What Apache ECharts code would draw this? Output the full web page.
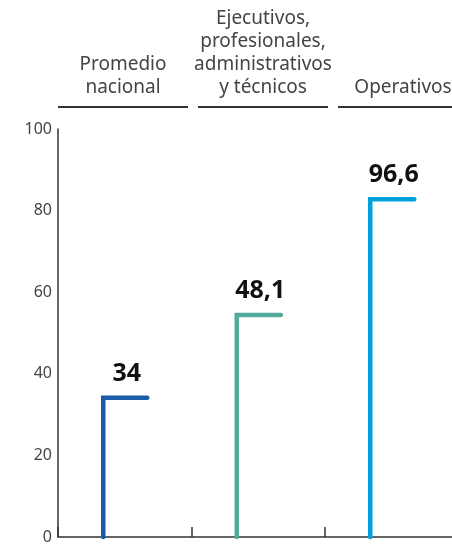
<!DOCTYPE html>
<html>
<head>
<meta charset="utf-8">
<script src="https://cdn.jsdelivr.net/npm/echarts@6/dist/echarts.min.js"></script>
<style>html,body{margin:0;padding:0;background:#fff;}#c{width:452px;height:547px;}</style>
</head>
<body>
<div id="c"></div>
<script>
var categories = ['Promedio\nnacional', 'Ejecutivos,\nprofesionales,\nadministrativos\ny técnicos', 'Operativos'];
var heights = [34.1, 54.4, 82.8];
var valueLabels = ['34', '48,1', '96,6'];
var colors = ['#1a5da6', '#52a899', '#00a2dc'];
var yTicks = [0, 20, 40, 60, 80, 100];
var headerBar = [1, 1, 1];

var FONT = '"Noto Sans", "Open Sans", sans-serif';
var chart = echarts.init(document.getElementById('c'), null, {renderer: 'canvas'});

chart.setOption({
  animation: false,
  backgroundColor: '#fff',
  grid: [
    {left: 58, top: 129, width: 400.5, height: 408, containLabel: false, outerBoundsMode: 'none'},
    {left: 53, top: 106, width: 420, height: 2, containLabel: false, outerBoundsMode: 'none'}
  ],
  xAxis: [
    {
      type: 'category', gridIndex: 0, data: categories,
      axisLine: {lineStyle: {color: '#333', width: 1.5}},
      axisTick: {show: true, inside: true, length: 10, lineStyle: {color: '#333', width: 1.5}},
      axisLabel: {show: false}
    },
    {
      type: 'category', gridIndex: 1, data: categories, position: 'top',
      axisLine: {show: false}, axisTick: {show: false},
      axisLabel: {color: '#444', fontSize: 19, fontFamily: FONT, lineHeight: 23, margin: 7, interval: 0, align: 'center'}
    }
  ],
  yAxis: [
    {
      type: 'value', gridIndex: 0, min: yTicks[0], max: yTicks[yTicks.length - 1], interval: 20,
      axisLine: {show: true, lineStyle: {color: '#333', width: 1.5}},
      axisTick: {show: false},
      splitLine: {show: false},
      axisLabel: {color: '#444', fontSize: 16, fontFamily: FONT, margin: 6}
    },
    {
      type: 'value', gridIndex: 1, min: 0, max: 1, show: false
    }
  ],
  series: [
    {
      type: 'custom',
      xAxisIndex: 0, yAxisIndex: 0,
      data: heights.map(function (h, i) { return [i, h]; }),
      renderItem: function (params, api) {
        var idx = params.dataIndex;
        var x = api.value(0), h = api.value(1);
        var base = api.coord([x, 0]);
        var top = api.coord([x, h]);
        var bw = api.size([1, 0])[0];
        var x0 = base[0] - bw * 0.161;
        var x1 = base[0] + bw * 0.169;
        return {
          type: 'group',
          children: [
            {
              type: 'polyline',
              shape: {points: [[x0, base[1]], [x0, top[1]], [x1, top[1]]]},
              style: {stroke: colors[idx], lineWidth: 4.5, fill: null, lineCap: 'round', lineJoin: 'miter'}
            },
            {
              type: 'text',
              style: {
                text: valueLabels[idx], x: base[0] + 2, y: top[1] - 24,
                align: 'center', verticalAlign: 'middle',
                font: 'bold 25px ' + FONT, fill: '#111'
              }
            }
          ]
        };
      }
    },
    {
      type: 'bar',
      xAxisIndex: 1, yAxisIndex: 1,
      data: headerBar,
      barWidth: 130,
      itemStyle: {color: '#333'},
      silent: true
    }
  ]
});
</script>
</body>
</html>
